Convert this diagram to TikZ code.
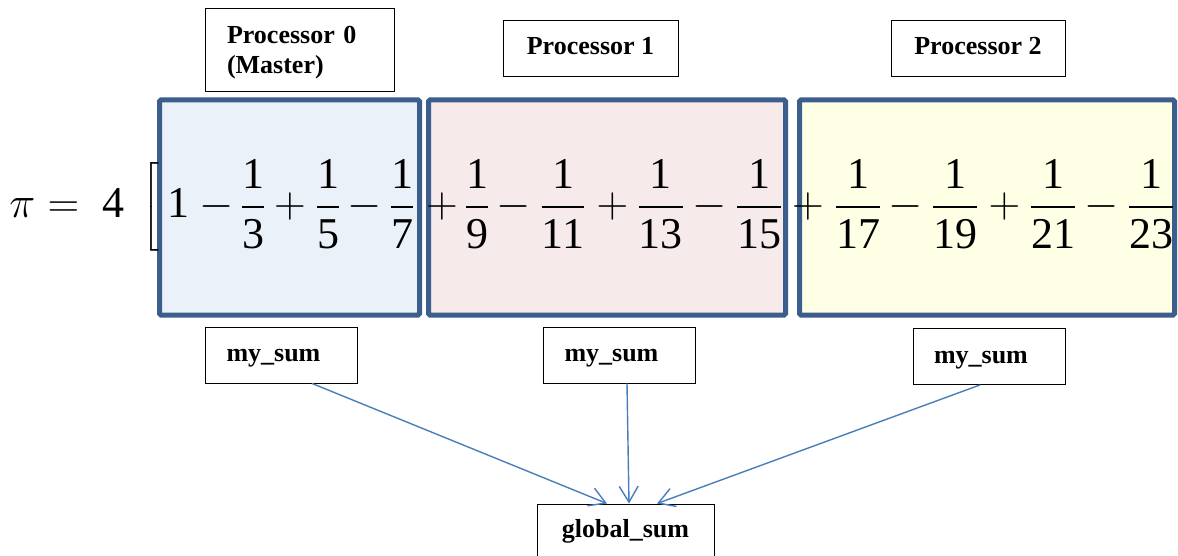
\RequirePackage{fix-cm}
\documentclass[tikz,border=0pt]{standalone}
\usepackage{amsmath}
\usepackage[no-math]{fontspec}
\newfontfamily\timesf{Liberation Serif}
\usetikzlibrary{arrows.meta}
\definecolor{bord}{RGB}{59,94,140}
\definecolor{bluef}{RGB}{235,241,249}
\definecolor{pinkf}{RGB}{246,234,235}
\definecolor{yellowf}{RGB}{255,255,229}
\definecolor{arrowc}{RGB}{74,126,187}
\newcommand\myfrac[2]{\genfrac{}{}{2.6pt}{0}{\mbox{\timesf #1}}{\mbox{\timesf #2}}}
\newcommand\mynum[1]{\mbox{\timesf #1}}
\begin{document}
\begin{tikzpicture}[x=1pt,y=-1pt,
  lbl/.style={draw=black, line width=0.9pt, fill=white, inner sep=0pt,
    font=\timesf\bfseries\fontsize{26}{30}\selectfont},
  lbl1/.style={lbl, text height=20pt, text depth=6pt},
  part/.style={draw=bord, line width=5pt, rounded corners=1.5pt, inner sep=0pt, minimum height=215pt},
  mterm/.style={anchor=base, inner sep=0pt, font=\fontsize{44}{52}\selectfont},
  arr/.style={draw=arrowc, line width=1.4pt, -{Straight Barb[length=16pt,width=19pt]}}]
\clip (0,0) rectangle (1178,556);
\fill[white] (0,0) rectangle (1178,556);
% processor parts
\node[part, fill=bluef, minimum width=260pt] (b0) at (289.5,207.5) {};
\node[part, fill=pinkf, minimum width=357pt] (b1) at (607,207.5) {};
\node[part, fill=yellowf, minimum width=375pt] (b2) at (987,207.5) {};
% formula
\node[mterm, anchor=base] (br) at (151,218) {$\left[\vcenter{\hbox{\rule{0pt}{80pt}}}\right.$};
\foreach \x/\t [count=\i] in {22.5/\pi, 63.5/=, 113/\mynum{4}, 178.5/\mynum{1}, 216.5/-, 253/\myfrac{1}{3}, 290/+, 328/\myfrac{1}{5}, 365/-, 402/\myfrac{1}{7}, 442/+, 477/\myfrac{1}{9}, 514/-, 563/\myfrac{1}{11}, 612.5/+, 660.5/\myfrac{1}{13}, 710/-, 759/\myfrac{1}{15}, 808/+, 858/\myfrac{1}{17}, 906/-, 955/\myfrac{1}{19}, 1004.5/+, 1053/\myfrac{1}{21}, 1102/-, 1151/\myfrac{1}{23}}
  \node[mterm] (t\i) at (\x,218) {$\t$};
% labels
\node[lbl, minimum width=189pt, minimum height=83pt, text width=146pt, align=left] (p0) at (300,49.5) {\rule{0pt}{22.6pt}Processor 0\\(Master)};
\node[lbl1, minimum width=175pt, minimum height=56pt] (p1) at (590.5,48) {Processor 1};
\node[lbl1, minimum width=174pt, minimum height=56pt] (p2) at (978,48) {Processor 2};
\node[lbl1, minimum width=152pt, minimum height=56pt, text width=110pt, align=left, text depth=6.6pt] (ms1) at (281.5,355) {my\_sum};
\node[lbl1, minimum width=152pt, minimum height=56pt, text width=110pt, align=left, text depth=6.6pt] (ms2) at (619.5,355) {my\_sum};
\node[lbl1, minimum width=152pt, minimum height=56pt, text width=110pt, align=left, text depth=6.6pt] (ms3) at (989,356.5) {my\_sum};
\node[lbl1, minimum width=177pt, minimum height=58pt, text depth=10.6pt] (gs) at (625.5,533) {global\_sum};
% arrows
\draw[arr] ([xshift=30.5pt]ms1.south) -- ([xshift=-18.5pt]gs.north);
\draw[arr] ([xshift=7.5pt]ms2.south) -- ([xshift=3.5pt]gs.north);
\draw[arr] ([xshift=-9pt]ms3.south) -- ([xshift=31.5pt]gs.north);
\end{tikzpicture}
\end{document}
